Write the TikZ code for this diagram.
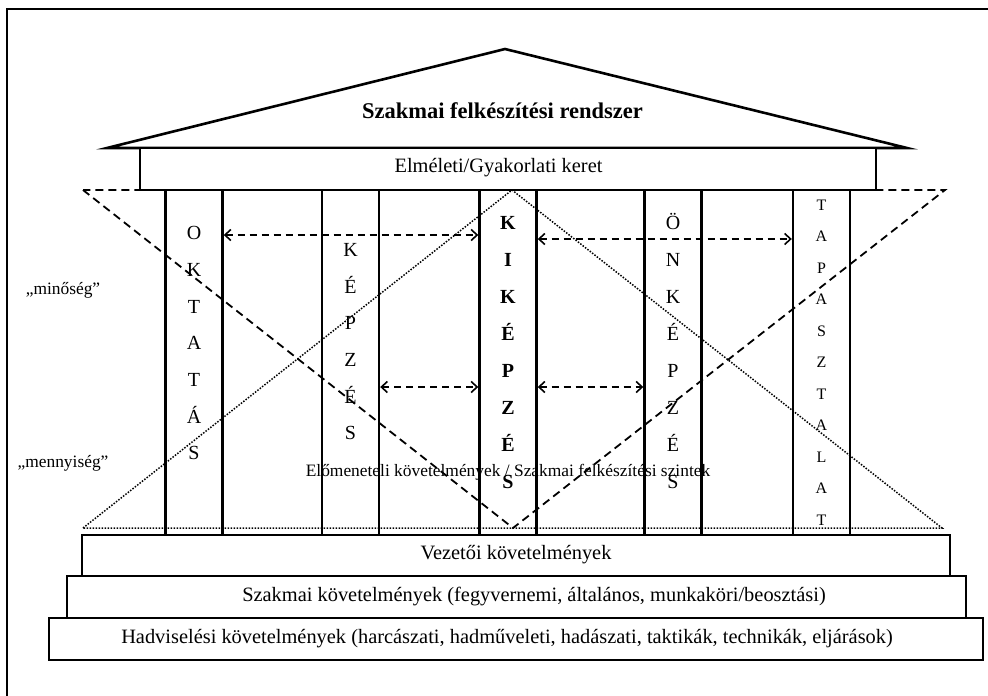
\documentclass[tikz,border=0pt]{standalone}
\usepackage{fontspec}
\setmainfont{Liberation Serif}
\usetikzlibrary{arrows.meta}

\tikzset{
    pillar/.style={draw, line width=2.4pt, minimum width=57pt, minimum height=345pt, inner sep=0pt},
    floorbox/.style={draw, fill=white, line width=2.6pt, inner sep=0pt},
    floortext/.style={inner sep=0pt, font=\fontsize{20.4}{20.4}\selectfont},
    letter/.style={anchor=base, inner sep=0pt, font=\fontsize{20}{20}\selectfont},
    sidetext/.style={font=\fontsize{17.4}{17.4}\selectfont},
    link/.style={<->, >={Straight Barb[length=6pt, width=11pt, line width=1.6pt]}, line width=1.8pt, dash pattern=on 7pt off 5pt},
}

\begin{document}
\begin{tikzpicture}[x=1pt, y=-1pt]
    \useasboundingbox (0,0) rectangle (988,696);

    % Outer frame (only top and left edge are visible)
    \draw[line width=1.3pt] (988,9) -- (7,9) -- (7,696);

    % Dashed and dotted triangles behind the building
    \draw[line width=1.8pt, dash pattern=on 8pt off 5pt] (83,190) -- (513,528) -- (945,190) -- cycle;
    \draw[line width=1.5pt, dash pattern=on 1.5pt off 1.5pt] (83,528) -- (512,190) -- (942,528) -- cycle;

    % Roof with title
    \draw[line width=2.6pt] (107,148) -- (505,49) -- (907,148) -- cycle;
    \node[font=\bfseries\fontsize{22.5}{22.5}\selectfont] (title) at (502.5,111) {Szakmai felkészítési rendszer};
    \node[floorbox, minimum width=736pt, minimum height=42pt] (frame) at (508,169) {};
    \node[floortext] (frametext) at (498.5,168) {Elméleti/Gyakorlati keret};

    % Pillars
    \node[pillar] (okt) at (194,362.5) {};
    \node[pillar] (kep) at (350.5,362.5) {};
    \node[pillar] (kik) at (508,362.5) {};
    \node[pillar] (onk) at (673,362.5) {};
    \node[pillar] (tap) at (821.5,362.5) {};

    % Letters written down each pillar
    \foreach \ch [count=\i] in {O,K,T,A,T,Á,S}
        \node[letter] (okt\i) at (194, 203+36.7*\i) {\ch};
    \foreach \ch [count=\i] in {K,É,P,Z,É,S}
        \node[letter] (kep\i) at (350.5, 220+36.6*\i) {\ch};
    \foreach \ch [count=\i] in {K,I,K,É,P,Z,É,S}
        \node[letter, font=\bfseries\fontsize{20}{20}\selectfont] (kik\i) at (508, 192.5+37*\i) {\ch};
    \foreach \ch [count=\i] in {Ö,N,K,É,P,Z,É,S}
        \node[letter] (onk\i) at (673, 192.5+37*\i) {\ch};
    \foreach \ch [count=\i] in {T,A,P,A,S,Z,T,A,L,A,T}
        \node[letter, font=\fontsize{16}{16}\selectfont] (tap\i) at (821.5, 178.5+31.5*\i) {\ch};

    % Rows of the dashed links
    \coordinate (leftrow) at (0,235);
    \coordinate (rightrow) at (0,239);
    \coordinate (lowrow) at (0,387);

    % Dashed links between the pillars
    \draw[link] (okt.east |- leftrow) -- (kik.west |- leftrow);
    \draw[link] (kik.east |- rightrow) -- (tap.west |- rightrow);
    \draw[link] (kep.east |- lowrow) -- (kik.west |- lowrow);
    \draw[link] (kik.east |- lowrow) -- (onk.west |- lowrow);

    % Side and middle labels
    \node[sidetext] (quality) at (63,290) {„minőség”};
    \node[sidetext] (quantity) at (63,463) {„mennyiség”};
    \node[sidetext] (levels) at (508,472) {Előmeneteli követelmények / Szakmai felkészítési szintek};

    % Foundation steps
    \node[floorbox, minimum width=868pt, minimum height=41pt] (lead) at (516,555.5) {};
    \node[floorbox, minimum width=899pt, minimum height=42pt] (prof) at (516.5,597) {};
    \node[floorbox, minimum width=934pt, minimum height=42pt] (war) at (516,639) {};
    \node[floortext] (leadtext) at (516,555) {Vezetői követelmények};
    \node[floortext] (proftext) at (534,596.5) {Szakmai követelmények (fegyvernemi, általános, munkaköri/beosztási)};
    \node[floortext] (wartext) at (507,638.5) {Hadviselési követelmények (harcászati, hadműveleti, hadászati, taktikák, technikák, eljárások)};

\end{tikzpicture}
\end{document}
